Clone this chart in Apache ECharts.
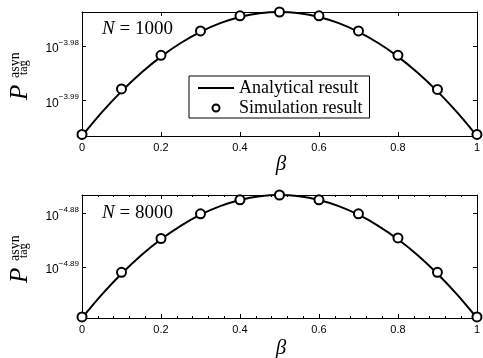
<!DOCTYPE html>
<html>
<head>
<meta charset="utf-8">
<script src="https://cdn.jsdelivr.net/npm/echarts@6/dist/echarts.min.js"></script>
<style>
  html, body { margin: 0; padding: 0; background: #fff; }
  #chart { width: 483px; height: 358px; }
</style>
</head>
<body>
<div id="chart"></div>
<script>
// beta values for the analytical curve and the simulation markers
const betaCurve = [0, 0.05, 0.1, 0.15, 0.2, 0.25, 0.3, 0.35, 0.4, 0.45, 0.5,
                   0.55, 0.6, 0.65, 0.7, 0.75, 0.8, 0.85, 0.9, 0.95, 1];
const betaSim = [0, 0.1, 0.2, 0.3, 0.4, 0.5, 0.6, 0.7, 0.8, 0.9, 1];

// log10 of P_tag^asyn
const curve1000 = [-3.9966, -3.99225, -3.98836, -3.98492, -3.98194, -3.97943, -3.97736,
                   -3.97576, -3.97462, -3.97393, -3.9737, -3.97393, -3.97462, -3.97576,
                   -3.97736, -3.97943, -3.98194, -3.98492, -3.98836, -3.99225, -3.9966];
const sim1000 = [-3.9963, -3.9879, -3.9817, -3.9772, -3.9744, -3.9737,
                 -3.9744, -3.9772, -3.9817, -3.9880, -3.9963];
const curve8000 = [-4.8995, -4.89515, -4.89126, -4.88782, -4.88484, -4.88233, -4.88026,
                   -4.87866, -4.87752, -4.87683, -4.8766, -4.87683, -4.87752, -4.87866,
                   -4.88026, -4.88233, -4.88484, -4.88782, -4.89126, -4.89515, -4.8995];
const sim8000 = [-4.8993, -4.8910, -4.8847, -4.8801, -4.8775, -4.8766,
                 -4.8775, -4.8801, -4.8846, -4.8910, -4.8993];

const yRange1000 = [-3.9966, -3.9737];
const yRange8000 = [-4.8995, -4.8766];
const yTicks1000 = [-3.99, -3.98];
const yTicks8000 = [-4.89, -4.88];

const SERIF = 'Liberation Serif';
const SANS = 'Liberation Sans';

const zip = (xs, ys) => xs.map((x, i) => [x, ys[i]]);

const powLabel = v => '{b|10}{s|' + v.toFixed(2).replace('-', '\u2212') + '}';

function xAxes(gridIndex, minor) {
    const base = {
        type: 'value', gridIndex, min: 0, max: 1, interval: 0.2,
        splitLine: { show: false },
        axisLine: { show: true, onZero: false, lineStyle: { color: '#000', width: 1 } },
        axisTick: { show: true, inside: true, length: 4, lineStyle: { color: '#000' } },
        minorTick: { show: minor, splitNumber: 5, length: 2, lineStyle: { color: '#000' } },
    };
    return [
        Object.assign({}, base, {
            position: 'bottom',
            axisLabel: {
                margin: 6, fontFamily: SANS, fontSize: 11, color: '#000',
                formatter: v => String(+v.toFixed(1)),
            },
        }),
        Object.assign({}, base, { position: 'top', axisLabel: { show: false } }),
    ];
}

function yAxes(gridIndex, range, ticks) {
    const base = {
        type: 'value', gridIndex, min: range[0], max: range[1],
        splitLine: { show: false },
        axisLine: { show: true, onZero: false, lineStyle: { color: '#000', width: 1 } },
        axisTick: { show: true, inside: true, length: 4, customValues: ticks,
                    lineStyle: { color: '#000' } },
    };
    return [
        Object.assign({}, base, {
            position: 'left',
            axisLabel: {
                margin: 3, customValues: ticks, formatter: powLabel,
                rich: {
                    b: { fontFamily: SANS, fontSize: 12, color: '#000', padding: [6, 0, 0, 0] },
                    s: { fontFamily: SANS, fontSize: 8, color: '#000', padding: [0, 0, 6, 0] },
                },
            },
        }),
        Object.assign({}, base, { position: 'right', axisLabel: { show: false } }),
    ];
}

function yTitle(bottomY) {
    return {
        type: 'group', x: 20, y: bottomY, rotation: Math.PI / 2,
        children: [
            { type: 'text', x: 0, y: 0, style: { text: 'P', fontFamily: SERIF, fontStyle: 'italic',
              fontSize: 25, verticalAlign: 'middle', fill: '#000' } },
            { type: 'text', x: 22, y: -5, style: { text: 'asyn', fontFamily: SERIF,
              fontSize: 14, verticalAlign: 'middle', fill: '#000' } },
            { type: 'text', x: 25, y: 4, style: { text: 'tag', fontFamily: SERIF,
              fontSize: 12, verticalAlign: 'middle', fill: '#000' } },
        ],
    };
}

function nLabel(y, n) {
    return {
        type: 'text', x: 102, y,
        style: { text: '{i|N} = ' + n, fontFamily: SERIF, fontSize: 19, fill: '#000',
                 verticalAlign: 'middle',
                 rich: { i: { fontFamily: SERIF, fontStyle: 'italic', fontSize: 19 } } },
    };
}

function betaLabel(y) {
    return {
        type: 'text', x: 281, y,
        style: { text: '\u03b2', fontFamily: SERIF, fontStyle: 'italic', fontSize: 21,
                 fill: '#000', align: 'center', verticalAlign: 'middle' },
    };
}

const lineSeries = (xi, yi, data) => ({
    name: 'Analytical result', type: 'line', xAxisIndex: xi, yAxisIndex: yi,
    data, smooth: 0.3, showSymbol: false, symbol: 'none', clip: false,
    lineStyle: { color: '#000', width: 2 }, itemStyle: { color: '#000' }, z: 2,
});
const simSeries = (xi, yi, data) => ({
    name: 'Simulation result', type: 'scatter', xAxisIndex: xi, yAxisIndex: yi,
    data, symbol: 'circle', symbolSize: 9, clip: false,
    itemStyle: { color: '#fff', borderColor: '#000', borderWidth: 2, opacity: 1 }, z: 3,
});

const chart = echarts.init(document.getElementById('chart'), null, { renderer: 'canvas' });
chart.setOption({
    animation: false,
    backgroundColor: '#fff',
    grid: [
        { left: 82, right: 3, top: 12, height: 124 },
        { left: 82, right: 3, top: 195, height: 123 },
    ],
    xAxis: [...xAxes(0, false), ...xAxes(1, true)],
    yAxis: [...yAxes(0, yRange1000, yTicks1000), ...yAxes(1, yRange8000, yTicks8000)],
    legend: {
        data: [
            { name: 'Analytical result', icon: 'path://M0,0 H36 V2 H0 Z',
              itemStyle: { color: '#000', borderWidth: 0 } },
            { name: 'Simulation result' },
        ],
        orient: 'vertical', left: 189, top: 76,
        padding: [3, 7, 1, 9], itemGap: 2, itemWidth: 36, itemHeight: 7,
        borderColor: '#000', borderWidth: 1, backgroundColor: '#fff',
        textStyle: { fontFamily: SERIF, fontSize: 18, lineHeight: 18, color: '#000' },
        selectedMode: false,
    },
    series: [
        lineSeries(0, 0, zip(betaCurve, curve1000)),
        simSeries(0, 0, zip(betaSim, sim1000)),
        lineSeries(2, 2, zip(betaCurve, curve8000)),
        simSeries(2, 2, zip(betaSim, sim8000)),
    ],
    graphic: [
        yTitle(100), yTitle(283),
        nLabel(29, 1000), nLabel(213, 8000),
        betaLabel(164), betaLabel(348),
    ],
});
</script>
</body>
</html>
